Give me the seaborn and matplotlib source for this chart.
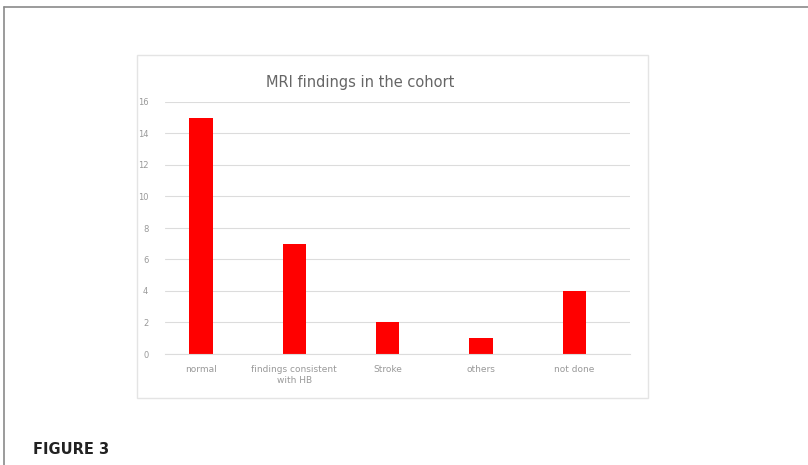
import numpy as np
import pandas as pd
import matplotlib
matplotlib.use("Agg")
import matplotlib.pyplot as plt
import seaborn as sns
from matplotlib.patches import Rectangle
from matplotlib.lines import Line2D

# Data
categories = ["normal", "findings consistent\nwith HB", "Stroke", "others", "not done"]
counts = [15, 7, 2, 1, 4]
yticks = [0, 2, 4, 6, 8, 10, 12, 14, 16]

df = pd.DataFrame({"category": categories, "count": counts})

sns.set_style("white")
plt.rcParams["font.family"] = ["DejaVu Sans"]

W, H = 808, 465
fig = plt.figure(figsize=(W / 100, H / 100), dpi=100)

# outer frame (top and left lines)
fig.add_artist(Line2D([4 / W, 1], [1 - 7 / H, 1 - 7 / H], color="#8a8a8a", lw=1.2))
fig.add_artist(Line2D([4 / W, 4 / W], [0, 1 - 7 / H], color="#8a8a8a", lw=1.2))

# chart box
fig.add_artist(Rectangle((137 / W, 1 - 398 / H), (648 - 137) / W, (398 - 55) / H,
                         fill=False, edgecolor="#e4e4e4", lw=1.0))

# axes in pixel coordinates
x0, x1, y0, y1 = 165, 630, 354, 102
ax = fig.add_axes([x0 / W, 1 - y0 / H, (x1 - x0) / W, (y0 - y1) / H])

sns.barplot(data=df, x="category", y="count", color="#ff0000", width=0.25,
            saturation=1, linewidth=0, ax=ax)

step = 93.3
ax.set_xlim((x0 - 201) / step, (x1 - 201) / step)
ax.set_ylim(0, 16)
ax.set_yticks(yticks)
ax.set_yticklabels([str(t) for t in yticks], fontsize=6, color="#999999")
ax.tick_params(axis="x", labelsize=6.5, labelcolor="#999999", length=0, pad=8)
ax.tick_params(axis="y", length=0, pad=12)
ax.yaxis.grid(True, color="#dcdcdc", lw=0.8)
ax.set_axisbelow(True)
for s in ["top", "right", "left"]:
    ax.spines[s].set_visible(False)
ax.spines["bottom"].set_color("#dcdcdc")
ax.set_xlabel("")
ax.set_ylabel("")

fig.text(360 / W, 1 - 83 / H, "MRI findings in the cohort", ha="center", va="center",
         fontsize=10.5, color="#666666")

fig.text(33 / W, 1 - 449 / H, "FIGURE 3", ha="left", va="center",
         fontsize=10.5, fontweight="bold", color="#222222")

fig.savefig("out.png", dpi=100)
